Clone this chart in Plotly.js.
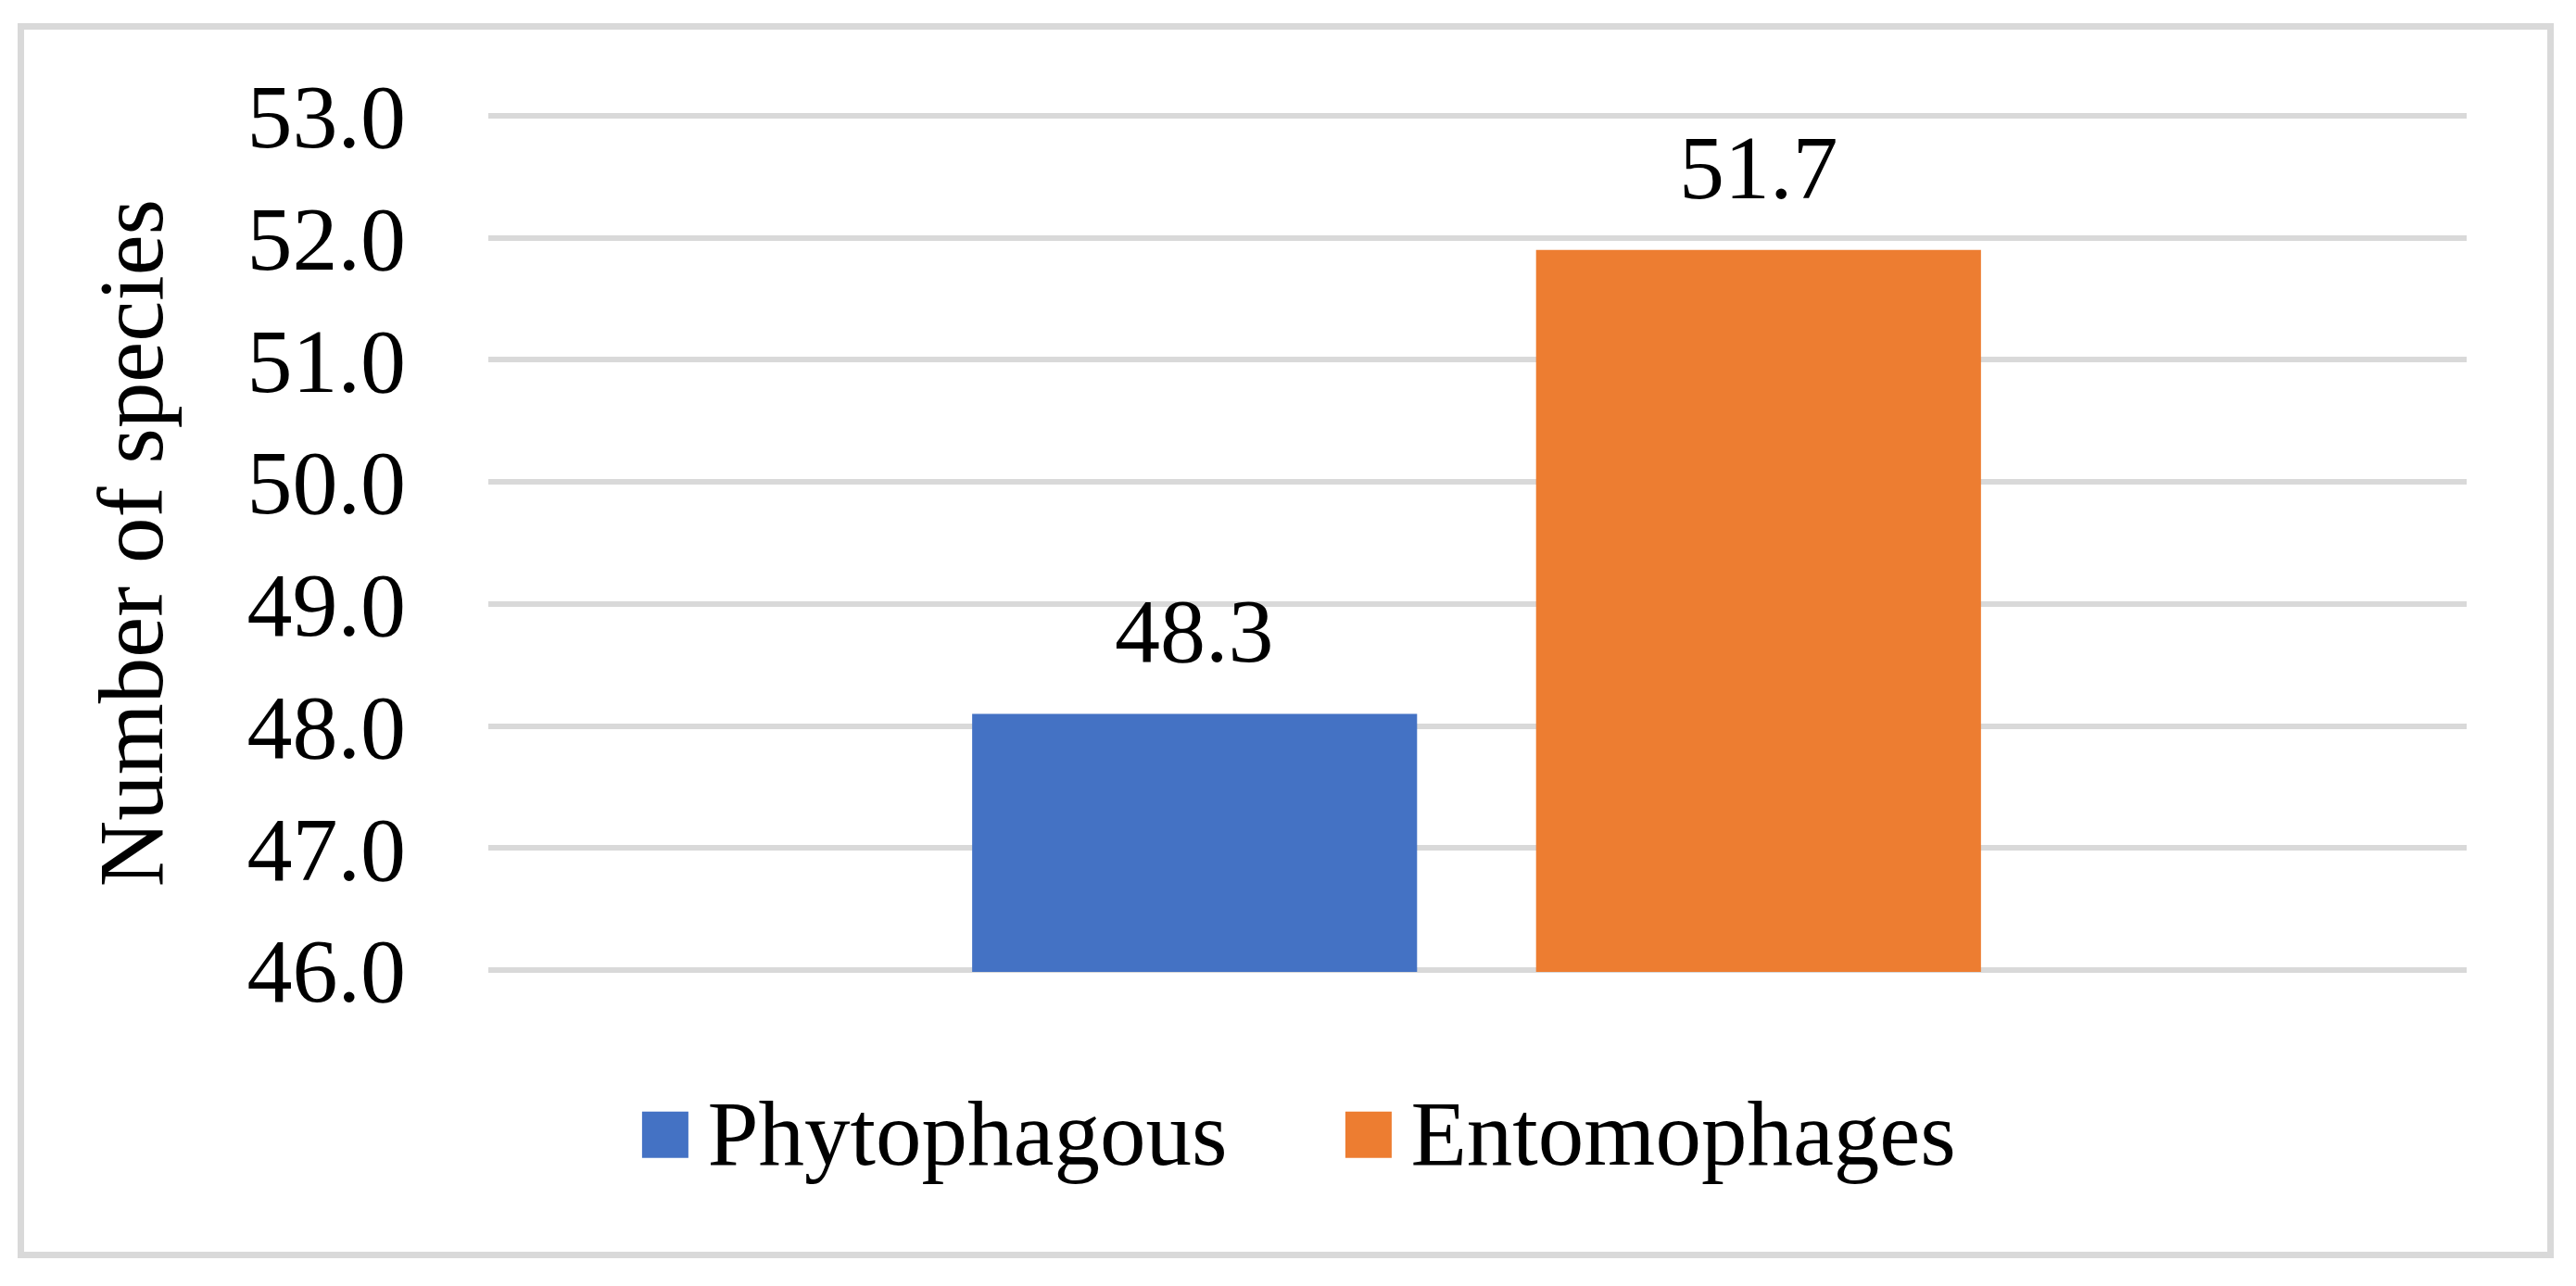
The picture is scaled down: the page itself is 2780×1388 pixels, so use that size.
<!DOCTYPE html>
<html>
<head>
<meta charset="utf-8">
<script src="https://cdn.plot.ly/plotly-3.0.1.min.js"></script>
<style>
  html, body { margin: 0; padding: 0; background: #ffffff; }
  #chart { width: 2780px; height: 1388px; }
  #frame { position: absolute; left: 19px; top: 25px; width: 2737px; height: 1333px;
           border: 7px solid #d9d9d9; box-sizing: border-box; pointer-events: none; }
</style>
</head>
<body>
<div id="chart"></div>
<div id="frame"></div>
<script>
// ---- data ----
const categories = ['Phytophagous', 'Entomophages'];
const barValues = [48.1, 51.9];          // bar heights as drawn
const dataLabels = ['48.3', '51.7'];     // data labels as printed
const yTickValues = [46, 47, 48, 49, 50, 51, 52, 53];
const yTickLabels = ['46.0', '47.0', '48.0', '49.0', '50.0', '51.0', '52.0', '53.0'];
const axisTitle = 'Number of species';

// ---- style ----
const seriesColors = ['#4472C4', '#ED7D31'];
const FONT = '"Liberation Serif", "Times New Roman", serif';

const traces = categories.map((c, i) => ({
  type: 'bar',
  name: c,
  x: [c],
  y: [barValues[i]],
  width: 0.789,
  marker: { color: seriesColors[i], line: { width: 0 } },
  hoverinfo: 'none'
}));

const annotations = categories.map((c, i) => ({
  x: c,
  y: barValues[i],
  xref: 'x',
  yref: 'y',
  text: dataLabels[i],
  showarrow: false,
  yanchor: 'bottom',
  yshift: 33,
  font: { family: FONT, size: 98, color: '#000000' }
}));

const layout = {
  width: 2780,
  height: 1388,
  margin: { l: 527, r: 118, t: 123, b: 339 },
  paper_bgcolor: '#ffffff',
  plot_bgcolor: '#ffffff',
  font: { family: FONT, size: 98, color: '#000000' },
  barmode: 'overlay',
  showlegend: true,
  xaxis: {
    type: 'category',
    categoryorder: 'array',
    categoryarray: categories,
    range: [-1.2525, 2.2558],
    showticklabels: false,
    showgrid: false,
    zeroline: false,
    showline: false,
    ticks: ''
  },
  yaxis: {
    range: [45.985, 53.015],
    tickmode: 'array',
    tickvals: yTickValues,
    ticktext: yTickLabels,
    showgrid: true,
    gridcolor: '#d9d9d9',
    gridwidth: 6,
    zeroline: false,
    showline: false,
    ticks: '',
    ticklabelstandoff: 88,
    tickfont: { family: FONT, size: 98, color: '#000000' },
    title: { text: axisTitle, standoff: 57, font: { family: FONT, size: 99, color: '#000000' } }
  },
  legend: {
    orientation: 'h',
    x: 0.0681,
    xanchor: 'left',
    y: -0.1069,
    yanchor: 'top',
    font: { family: FONT, size: 99, color: '#000000' },
    itemwidth: 81,
    entrywidth: 663,
    entrywidthmode: 'pixels',
    traceorder: 'normal',
    bgcolor: 'rgba(0,0,0,0)'
  },
  annotations: annotations
};

Plotly.newPlot('chart', traces, layout, { displayModeBar: false, staticPlot: true }).then(() => {
  document.querySelectorAll('.legend .legendpoints path').forEach(p => {
    p.setAttribute('d', 'M25,31H-25V-19H25Z');
  });
});
</script>
</body>
</html>
